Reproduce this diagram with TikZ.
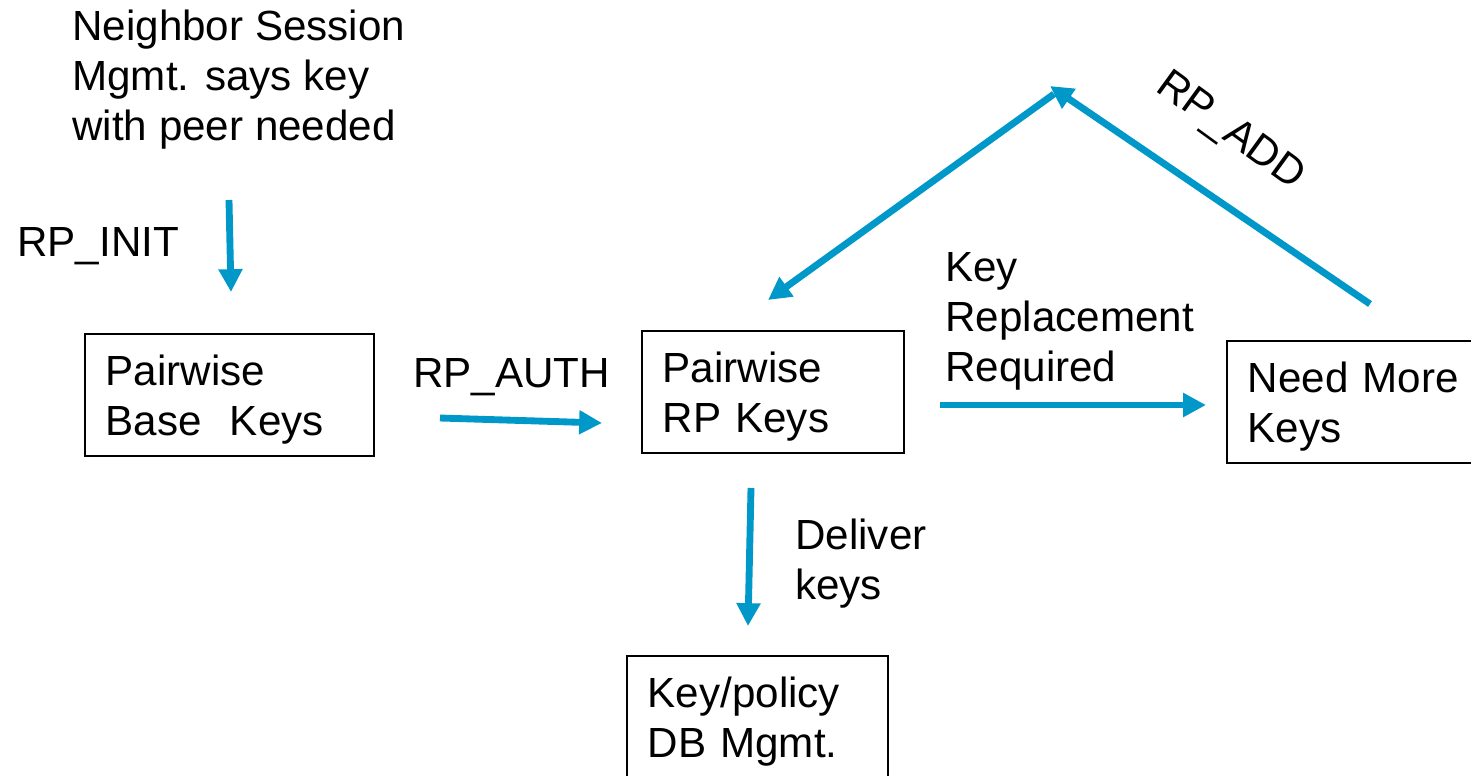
\documentclass[tikz,border=0pt]{standalone}
\usepackage{fontspec}
\setmainfont{Liberation Sans}
\usepackage{xcolor}
\usetikzlibrary{arrows.meta}
\definecolor{flowblue}{HTML}{0098C8}

\begin{document}
\begin{tikzpicture}[x=0.02cm,y=-0.02cm,
  every node/.style={font=\fontsize{24}{28.5}\selectfont},
  keybox/.style={draw,line width=0.9pt,align=left,anchor=north west,inner xsep=0.42cm,inner ysep=0pt,
    minimum height=2.44cm,text height=24pt,text depth=34.2pt},
  lbl/.style={align=left,anchor=west,inner sep=0pt,yshift=-0.07cm},
  flow/.style={-{Triangle[length=13pt,width=13pt]},flowblue,line width=3.9pt}]
\useasboundingbox (0,0) rectangle (1471,775);
% boxes
\node[keybox,minimum width=5.78cm,text width=4.94cm] (base) at (84,333) {Pairwise\\Base\ \ Keys};
\node[keybox,minimum width=5.24cm,text width=4.40cm] (rp) at (641,330) {Pairwise\\RP Keys};
\node[keybox,minimum width=5.6cm,text width=4.76cm] (more) at (1226,340) {Need More\\Keys};
\node[keybox,minimum width=5.22cm,text width=4.38cm] (db) at (626,655) {Key/policy\\DB Mgmt.};
% labels
\node[lbl] (neighbor) at (72,76) {Neighbor Session\\Mgmt. says key\\with peer needed};
\node[lbl] (init) at (17,243) {RP\_INIT};
\node[lbl] (auth) at (413,374) {RP\_AUTH};
\node[lbl] (repl) at (945,318) {Key\\Replacement\\Required};
\node[lbl] (deliver) at (795,560) {Deliver\\keys};
\node[rotate=-36] (add) at (1230,132) {RP\_ADD};
% arrow ends
\coordinate (initS) at (229,200);
\coordinate (initE) at (231,292);
\coordinate (authS) at (440,418);
\coordinate (authE) at (602,423);
\coordinate (delS) at (751,488);
\coordinate (delE) at (748,626);
\coordinate (replS) at (940,405);
\coordinate (replE) at (1206,405);
\coordinate (addS) at (1370,304);
\coordinate (apex) at (1050,86);
\coordinate (backS) at (1054,94);
\coordinate (backE) at (768,300);
% arrows
\draw[flow] (initS) -- (initE);
\draw[flow] (authS) -- (authE);
\draw[flow] (delS) -- (delE);
\draw[flow] (replS) -- (replE);
\draw[flow] (addS) -- (apex);
\draw[flow] (backS) -- (backE);
\end{tikzpicture}
\end{document}
